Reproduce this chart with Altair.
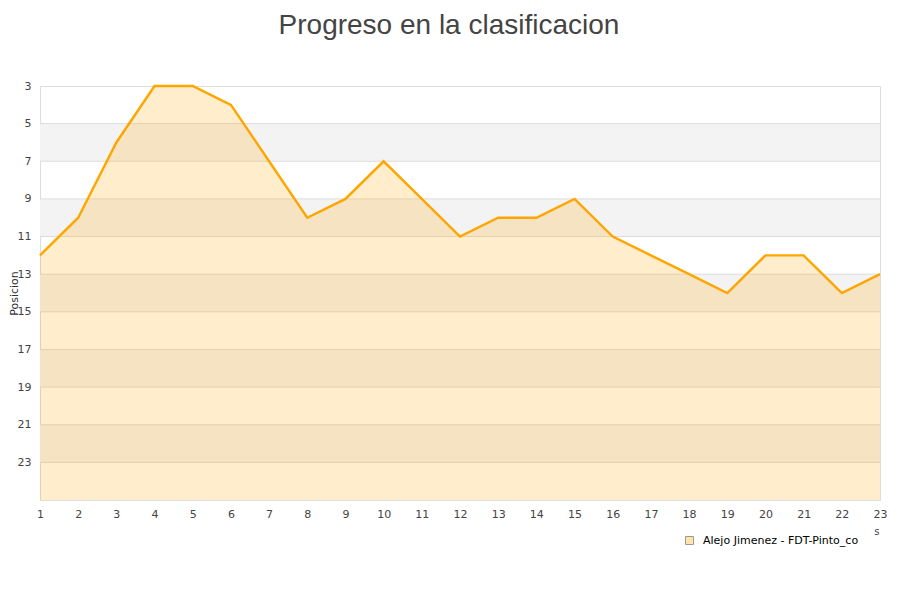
import altair as alt
import pandas as pd

jornadas = list(range(1, 24))
posiciones = [12, 10, 6, 3, 3, 4, 7, 10, 9, 7, 9, 11, 10, 10, 9, 11, 12, 13, 14, 12, 12, 14, 13]
serie = "Alejo Jimenez - FDT-Pinto_co"
band_start = [5, 9, 13, 17, 21]
band_end = [7, 11, 15, 19, 23]
grid_vals = [5, 7, 9, 11, 13, 15, 17, 19, 21, 23]
y_ticks = [3, 5, 7, 9, 11, 13, 15, 17, 19, 21, 23]

df = pd.DataFrame({"jornada": jornadas, "pos": posiciones, "serie": serie})
bands = pd.DataFrame({"y0": band_start, "y1": band_end})
grid = pd.DataFrame({"g": grid_vals})
legend_df = pd.DataFrame({"serie": [serie], "jornada": [-50], "pos": [3]})

FONT = "DejaVu Sans"
yscale = alt.Scale(domain=[3, 25], reverse=True, nice=False, zero=False)
xscale = alt.Scale(domain=[1, 23], nice=False, zero=False)

xaxis = alt.Axis(values=jornadas, format="d", grid=False, domain=False, ticks=False,
                 labelOverlap=False, labelFlush=False, labelBound=False,
                 labelFontSize=11, labelColor="#444", labelFont=FONT, labelPadding=8,
                 title="s", titleFont=FONT, titleFontSize=10, titleFontWeight="normal",
                 titleColor="#444", titleX=839, titleY=26, titleAnchor="end")
yaxis = alt.Axis(values=y_ticks, grid=False, domain=False, ticks=False,
                 labelOverlap=False, labelFontSize=11, labelColor="#444", labelFont=FONT,
                 labelPadding=9,
                 title="Posicion", titleFont=FONT, titleFontSize=11,
                 titleFontWeight="normal", titleColor="#333",
                 titleX=-21, titleY=207, titleAngle=-90)

X = alt.X("jornada:Q", scale=xscale, axis=xaxis)
Y = alt.Y("pos:Q", scale=yscale, axis=yaxis)

band_layer = alt.Chart(bands).mark_rect(color="#f3f3f3").encode(
    y=alt.Y("y0:Q", scale=yscale, axis=yaxis),
    y2="y1:Q",
)

grid_layer = alt.Chart(grid).mark_rule(color="#dcdcdc", strokeWidth=1).encode(
    y=alt.Y("g:Q", scale=yscale, axis=yaxis),
)

area = alt.Chart(df).mark_area(opacity=0.2, color="#FFA500", interpolate="linear").encode(
    x=X, y=Y, y2=alt.datum(25),
)

legend_layer = alt.Chart(legend_df).mark_square(
    filled=True, stroke="#999999", strokeWidth=1, opacity=1, size=64, clip=True
).encode(
    x=X, y=Y,
    color=alt.Color("serie:N", scale=alt.Scale(range=["#FFE4B0"]),
                    legend=alt.Legend(title=None, orient="none", legendX=644, legendY=449,
                                      symbolType="square", symbolSize=64,
                                      symbolStrokeColor="#999999", symbolStrokeWidth=1,
                                      symbolOpacity=1,
                                      labelFont=FONT, labelFontSize=11, labelColor="#000",
                                      labelOffset=8)),
)

line = alt.Chart(df).mark_line(color="#FFA500", strokeWidth=2.4).encode(x=X, y=Y)

chart = alt.layer(band_layer, grid_layer, area, line, legend_layer).properties(
    width=840, height=414,
    title=alt.TitleParams("Progreso en la clasificacion", font="Liberation Sans", fontSize=28,
                          fontWeight="normal", color="#444", anchor="middle",
                          dx=-11, offset=40),
    autosize=alt.AutoSizeParams(type="none"),
    padding={"left": 32, "top": 78, "right": 12, "bottom": 70},
).configure_view(stroke="#dcdcdc", strokeWidth=1).configure(background="white")

chart.save("out.html", embed_options={"renderer": "svg", "actions": False})
